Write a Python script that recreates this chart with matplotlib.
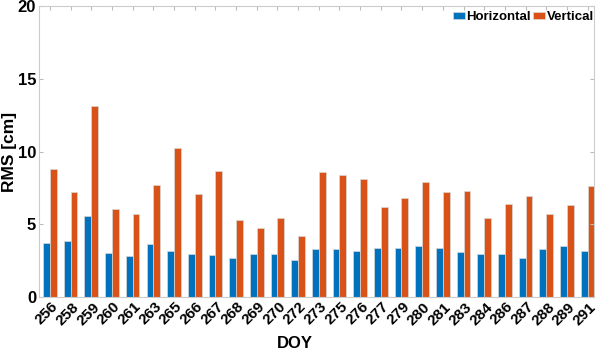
import matplotlib
matplotlib.use("Agg")
import matplotlib.pyplot as plt
import matplotlib.transforms as mtransforms
import numpy as np

doy = ["256", "258", "259", "260", "261", "263", "265", "266", "267", "268", "269", "270", "272",
       "273", "275", "276", "277", "279", "280", "281", "283", "284", "286", "287", "288", "289", "291"]
horizontal = [3.71, 3.83, 5.55, 3.00, 2.82, 3.62, 3.19, 2.93, 2.89, 2.71, 2.96, 2.96, 2.57,
              3.32, 3.28, 3.16, 3.37, 3.37, 3.51, 3.39, 3.09, 2.98, 2.98, 2.71, 3.28, 3.53, 3.16]
vertical = [8.80, 7.22, 13.13, 6.03, 5.73, 7.70, 10.22, 7.10, 8.64, 5.32, 4.72, 5.43, 4.22,
            8.62, 8.41, 8.11, 6.21, 6.83, 7.90, 7.22, 7.31, 5.43, 6.42, 6.92, 5.73, 6.32, 7.63]
yticks = [0, 5, 10, 15, 20]

plt.rcParams['font.family'] = ['Liberation Sans', 'DejaVu Sans']
plt.rcParams['font.weight'] = 'bold'

fig = plt.figure(figsize=(6, 3.51), dpi=100)
ax = fig.add_axes([39/600, 1 - 297/351, 555/600, 291/351])

x = np.arange(len(doy))
w = 0.33
ax.bar(x - w/2, horizontal, w, color='#0072BD', edgecolor='#d8d8d8', linewidth=0.5, label='Horizontal')
ax.bar(x + w/2, vertical, w, color='#D95319', edgecolor='#d8d8d8', linewidth=0.5, label='Vertical')

ax.set_xlim(-0.53, len(doy) - 1 + 0.31)
ax.set_ylim(0, 20)
ax.set_yticks(yticks)
ax.set_xticks(x)
ax.set_xticklabels(doy, rotation=45, ha='center', va='top')
ax.tick_params(axis='both', direction='in', length=3, color='#bbbbbb',
               top=True, right=True)
ax.tick_params(axis='x', labelsize=11, pad=2)
ax.tick_params(axis='y', labelsize=12, pad=2)
shift = mtransforms.ScaledTranslation(-3/100, 0, fig.dpi_scale_trans)
for lab in ax.get_xticklabels():
    lab.set_fontweight('bold')
    lab.set_transform(lab.get_transform() + shift)
for lab in ax.get_yticklabels():
    lab.set_fontweight('bold')
for s in ax.spines.values():
    s.set_color('#cccccc')
    s.set_linewidth(0.8)

ax.set_ylabel('RMS [cm]', fontsize=12.5, fontweight='bold')
ax.yaxis.set_label_coords(-0.0396, 0.5)
ax.set_xlabel('DOY', fontsize=12, fontweight='bold')
ax.xaxis.set_label_coords((295 - 39) / 555, (297 - 336) / 291)
ax.xaxis.label.set_va('top')

leg = ax.legend(loc='upper right', ncol=2, frameon=False, fontsize=9.5,
                handlelength=0.93, handleheight=0.4, handletextpad=0.1, columnspacing=0.15,
                borderpad=0, borderaxespad=0, bbox_to_anchor=(1.0, 1 - 5/291))
for t in leg.get_texts():
    t.set_fontweight('bold')

fig.savefig('out.png', dpi=100)
